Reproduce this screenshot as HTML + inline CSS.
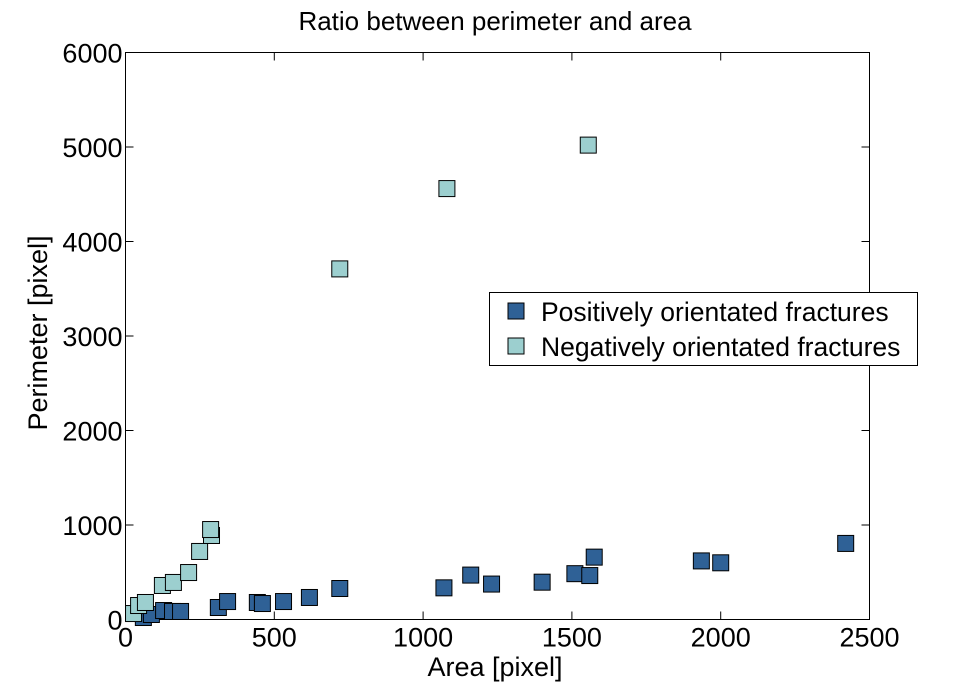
<!DOCTYPE html>
<html><head><meta charset="utf-8"><style>
body{margin:0;background:#fff;}
svg{display:block;font-family:"Liberation Sans",sans-serif;}
</style></head><body>
<svg id="chart" width="960" height="696">
<text x="495" y="30" font-size="26" text-anchor="middle">Ratio between perimeter and area</text>
<g id="axes"></g>
<g id="pts"></g>
<text x="495" y="676" font-size="27" text-anchor="middle">Area [pixel]</text>
<text x="47" y="333" font-size="27" text-anchor="middle" transform="rotate(-90 47 333)">Perimeter [pixel]</text>
<g>
<rect x="489.5" y="292.5" width="428" height="73" fill="#fff" stroke="#000"/>
<rect x="508" y="303" width="16" height="16" fill="#2f6196" stroke="#000"/>
<text x="541" y="321" font-size="26.5">Positively orientated fractures</text>
<rect x="508" y="338" width="16" height="16" fill="#9ccfcf" stroke="#000"/>
<text x="541" y="356" font-size="26.5">Negatively orientated fractures</text>
</g>
</svg>
<script>
const xTicks=[0,500,1000,1500,2000,2500];
const yTicks=[0,1000,2000,3000,4000,5000,6000];
const posX=[60,87,128,158,185,312,343,443,460,531,618,720,1070,1160,1230,1400,1510,1560,1575,1935,2000,2420];
const posY=[21,53,95,85,85,127,190,180,169,190,233,328,335,470,375,395,485,465,660,620,600,805];
const negX=[27,44,67,124,161,212,249,289,286,720,1080,1555];
const negY=[63,148,180,360,392,497,720,889,952,3710,4560,5020];
const L=125.5,R=869.5,T=52.5,B=619.5;
const sx=v=>L+v/2500*(R-L), sy=v=>B-v/6000*(B-T);
const NS="http://www.w3.org/2000/svg";
const ax=document.getElementById('axes'), pts=document.getElementById('pts');
function mk(tag,attrs,parent){const e=document.createElementNS(NS,tag);for(const k in attrs)e.setAttribute(k,attrs[k]);parent.appendChild(e);return e;}
const fr=mk('rect',{x:L,y:T,width:R-L,height:B-T,fill:'none',stroke:'#000'},ax);


xTicks.forEach(v=>{const x=sx(v);
 mk('line',{x1:x,x2:x,y1:B,y2:B-8,stroke:'#000'},ax);
 mk('line',{x1:x,x2:x,y1:T,y2:T+8,stroke:'#000'},ax);
 const t=mk('text',{x:x,y:B+27,'font-size':27,'text-anchor':'middle'},ax);t.textContent=v;
 
 });
yTicks.forEach(v=>{const y=sy(v);
 mk('line',{x1:L,x2:L+8,y1:y,y2:y,stroke:'#000'},ax);
 mk('line',{x1:R,x2:R-8,y1:y,y2:y,stroke:'#000'},ax);
 const t=mk('text',{x:L-3,y:y+10,'font-size':27,'text-anchor':'end'},ax);t.textContent=v;
 
 });
function series(xs,ys,col,name){xs.forEach((v,i)=>{
 const r=mk('rect',{x:sx(v)-8,y:sy(ys[i])-8,width:16,height:16,fill:col,stroke:'#000','stroke-width':1},pts);
 
 });}
series(posX,posY,'#2f6196','positive-point');
series(negX,negY,'#9ccfcf','negative-point');
</script>
</body></html>
